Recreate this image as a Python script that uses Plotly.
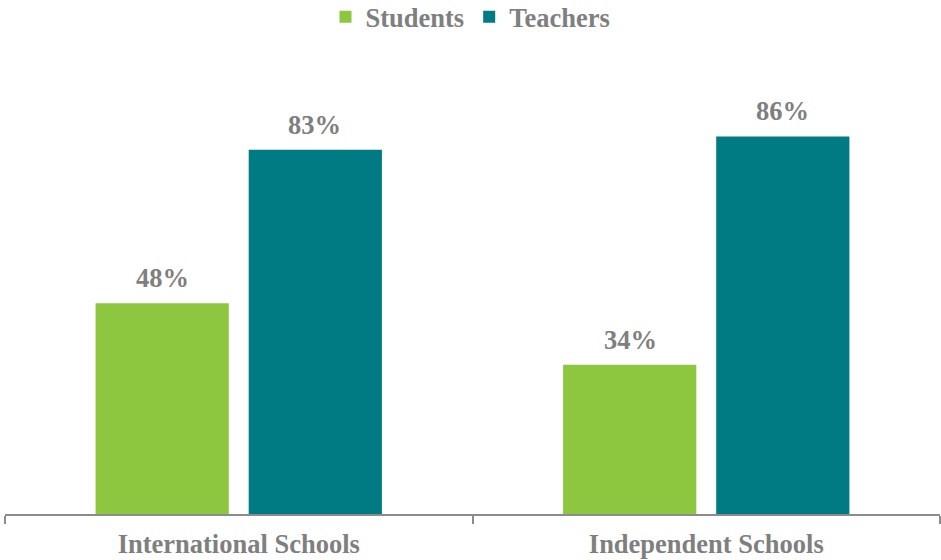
import plotly.graph_objects as go

categories = ["International Schools", "Independent Schools"]
students = [48, 34]
teachers = [83, 86]
series_names = ["Students", "Teachers"]

GREEN = "#8DC63F"
TEAL = "#007A83"
GRAY = "#7F7F7F"
AXIS = "#8C8C8C"
FONT = "Liberation Serif"
FSIZE = 26.5

fig = go.Figure()
series = [(series_names[0], students, GREEN), (series_names[1], teachers, TEAL)]
for i, (name, vals, color) in enumerate(series):
    fig.add_trace(go.Bar(
        name=name,
        x=categories,
        y=vals,
        offsetgroup=str(i),
        marker=dict(color=color, line=dict(width=0)),
    ))

fig.update_layout(
    width=941, height=560,
    margin=dict(l=5, r=1, t=75, b=43),
    paper_bgcolor="white", plot_bgcolor="white",
    barmode="group",
    bargap=0.345,
    bargroupgap=0.13,
    font=dict(family=FONT, size=FSIZE, color=GRAY, weight="bold"),
    showlegend=True,
    legend=dict(
        orientation="h",
        xref="container", yref="container",
        x=0.5, xanchor="center",
        y=1 - 17 / 560, yanchor="middle",
        font=dict(family=FONT, size=FSIZE, color=GRAY, weight="bold"),
        itemclick=False,
    ),
    xaxis=dict(
        showline=True, linecolor=AXIS, linewidth=2,
        ticks="outside", tickson="boundaries", ticklen=8, tickwidth=2,
        tickcolor=AXIS,
        ticklabelstandoff=5,
        tickfont=dict(family=FONT, size=FSIZE, color=GRAY, weight="bold"),
        showgrid=False,
    ),
    yaxis=dict(
        range=[0, 100],
        visible=False,
        showgrid=False,
        zeroline=False,
    ),
)

# Percentage labels above each bar, placed at the bar's value
offsets = [-0.163, 0.163]
for (name, vals, color), dx in zip(series, offsets):
    for ci, v in enumerate(vals):
        fig.add_annotation(
            x=ci + dx, y=v, xref="x", yref="y",
            text=f"{v}%", showarrow=False,
            yanchor="bottom", xanchor="center", yshift=8,
            font=dict(family=FONT, size=FSIZE, color=GRAY, weight="bold"),
        )

fig.write_html("out.html")
